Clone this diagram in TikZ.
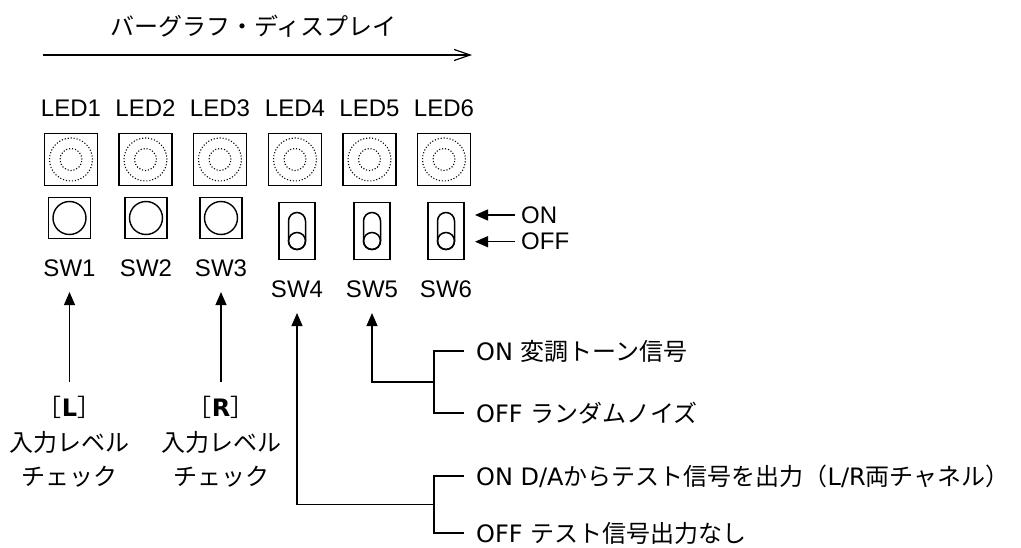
\documentclass[tikz,border=0pt]{standalone}
\usepackage{fontspec}
\setmainfont{Liberation Sans}
\newfontfamily\jpfont{Noto Sans CJK JP}
\newfontfamily\dvfont{DejaVu Sans}
\newcommand{\lat}[1]{{\dvfont #1}}
\usepackage{tikz}
\usetikzlibrary{arrows.meta,positioning}
\tikzset{
  lbl/.style={font=\fontsize{24}{29}\selectfont, inner sep=2pt},
  jplbl/.style={font=\jpfont\fontsize{24}{34.5}\selectfont, inner sep=2pt},
  optlbl/.style={jplbl, anchor=west, inner xsep=12pt, inner ysep=0pt},
  ledbox/.style={draw, line width=1.2pt, minimum width=53pt, minimum height=52pt,
    path picture={\draw[line width=1.1pt, dash pattern=on 1.1pt off 1.9pt]
      (path picture bounding box.center) circle (21.5pt) circle (11pt);}},
  btnbox/.style={draw, line width=1.2pt, minimum width=42pt, minimum height=41pt,
    path picture={\draw[line width=1.4pt] (path picture bounding box.center) circle (16.5pt);}},
  tglbox/.style={draw, line width=1.2pt, minimum width=36pt, minimum height=57pt,
    path picture={
      \draw[line width=1.5pt, rounded corners=8.5pt, shift={(path picture bounding box.center)}]
        (-8.5pt,-18.5pt) rectangle (8.5pt,18.5pt);
      \draw[line width=1.5pt, shift={(path picture bounding box.center)}]
        (0pt,-10pt) circle (8.5pt);}},
  arrfill/.style={-{Triangle[length=13pt,width=11pt]}, line width=1.2pt},
  arrbar/.style={-{Straight Barb[length=16pt,width=11pt]}, line width=1.2pt},
  bracket/.style={line width=1.2pt},
}

\begin{document}
\begin{tikzpicture}[x=1pt, y=-1pt]
\useasboundingbox (0,0) rectangle (1021,548);

% title and direction of the bar graph
\node[jplbl] (title) at (253.5,26) {バーグラフ・ディスプレイ};
\coordinate (barL) at (43,55);
\coordinate (barR) at (472,55);
\draw[arrbar] (barL) -- (barR);

% LEDs
\node[ledbox] (led1) at (71,159.5) {};
\node[ledbox] (led2) at (145.5,159.5) {};
\node[ledbox] (led3) at (220,159.5) {};
\node[ledbox] (led4) at (295,159.5) {};
\node[ledbox] (led5) at (369.5,159.5) {};
\node[ledbox] (led6) at (444,159.5) {};
\node[lbl, above=14pt of led1] (ledlbl1) {LED1};
\node[lbl, above=14pt of led2] (ledlbl2) {LED2};
\node[lbl, above=14pt of led3] (ledlbl3) {LED3};
\node[lbl, above=14pt of led4] (ledlbl4) {LED4};
\node[lbl, above=14pt of led5] (ledlbl5) {LED5};
\node[lbl, above=14pt of led6] (ledlbl6) {LED6};

% switches
\node[btnbox] (sw1) at (69.5,218) {};
\node[btnbox] (sw2) at (146,218) {};
\node[btnbox] (sw3) at (221,218) {};
\node[tglbox] (sw4) at (297,231) {};
\node[tglbox] (sw5) at (372,231) {};
\node[tglbox] (sw6) at (446,231) {};
\node[lbl, below=18pt of sw1] (swlbl1) {SW1};
\node[lbl, below=18pt of sw2] (swlbl2) {SW2};
\node[lbl, below=18pt of sw3] (swlbl3) {SW3};
\node[lbl, below=18pt of sw4] (swlbl4) {SW4};
\node[lbl, below=18pt of sw5] (swlbl5) {SW5};
\node[lbl, below=18pt of sw6] (swlbl6) {SW6};

% toggle positions
\node[lbl, anchor=west, inner xsep=6pt] (onlbl) at (515,215) {ON};
\node[lbl, anchor=west, inner xsep=6pt] (offlbl) at (515,241.7) {OFF};
\draw[arrfill] (onlbl.west) -- ++(-40,0);
\draw[arrfill] (offlbl.west) -- ++(-40,0);

% SW1, SW3
\node[jplbl, align=center, anchor=north, inner sep=0pt] (chkL) at (69.5,396) {［\lat{\textbf{L}}］\\入力レベル\\チェック};
\node[jplbl, align=center, anchor=north, inner sep=0pt] (chkR) at (221,396) {［\lat{\textbf{R}}］\\入力レベル\\チェック};
\draw[arrfill] ([yshift=14pt]chkL.north) -- ([yshift=-16pt]swlbl1.base);
\draw[arrfill] ([yshift=14pt]chkR.north) -- ([yshift=-16pt]swlbl3.base);

% SW5
\node[optlbl] (on5) at (464,351) {\lat{ON }変調トーン信号};
\node[optlbl] (off5) at (464,413) {\lat{OFF }ランダムノイズ};
\coordinate (j5) at (434,382);
\draw[bracket] (on5.west) -| (j5) |- (off5.west);
\draw[arrfill] (j5) -| ([yshift=-16pt]swlbl5.base);

% SW4
\node[optlbl] (on4) at (464,476) {\lat{ON D/A}からテスト信号を出力（\lat{L/R}両チャネル）};
\node[optlbl] (off4) at (464,533) {\lat{OFF }テスト信号出力なし};
\coordinate (j4) at (434,504.5);
\draw[bracket] (on4.west) -| (j4) |- (off4.west);
\draw[arrfill] (j4) -| ([yshift=-16pt]swlbl4.base);
\end{tikzpicture}
\end{document}
